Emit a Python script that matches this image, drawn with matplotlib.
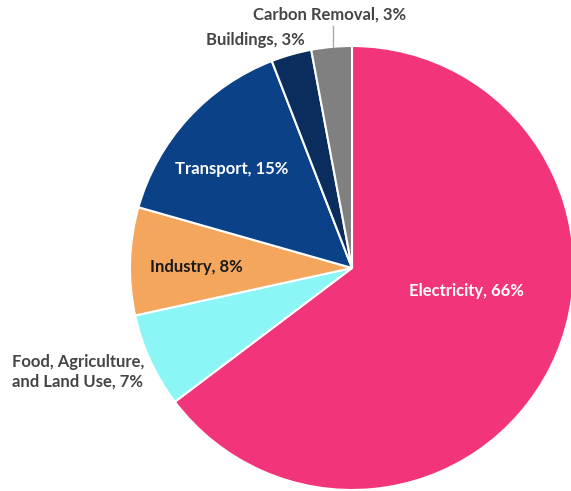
import matplotlib.pyplot as plt

# Share of emissions reductions by sector
sectors = ["Electricity", "Food, Agriculture,\nand Land Use", "Industry",
           "Transport", "Buildings", "Carbon Removal"]
shares = [66, 7, 8, 15, 3, 3]
colors = ["#F2357B", "#8CF6F6", "#F4A65D", "#0B4187", "#0A2D5E", "#808080"]

plt.rcParams["font.family"] = ["Lato", "DejaVu Sans"]

fig = plt.figure(figsize=(5.71, 4.91), dpi=100)
ax = fig.add_axes([0, 0, 1, 1])
H = 491

# pie drawn in pixel-like data units so labels can be placed easily
ax.pie(shares, colors=colors, startangle=90, counterclock=False,
       center=(352, H - 268), radius=222,
       wedgeprops=dict(edgecolor="white", linewidth=1.5))
ax.set_xlim(0, 571)
ax.set_ylim(0, H)
ax.set_aspect("equal")
ax.axis("off")

labels = [f"{s}, {v}%" for s, v in zip(sectors, shares)]
dark = "#454545"
kw = dict(fontsize=12, fontweight="bold", va="center")

ax.text(466, H - 291, labels[0], color="white", ha="center", **kw)
ax.text(12, H - 372, labels[1], color=dark, ha="left", linespacing=1.25, **kw)
ax.text(196, H - 267, labels[2], color="#1a1a1a", ha="center", **kw)
ax.text(232, H - 169, labels[3], color="white", ha="center", **kw)
ax.text(255, H - 40, labels[4], color=dark, ha="center", **kw)
ax.text(330, H - 15, labels[5], color=dark, ha="center", **kw)

# leader line for the small carbon removal slice
ax.plot([333, 333], [H - 26, H - 47], color="#aaaaaa", linewidth=1)

fig.savefig("out.png", dpi=100)
